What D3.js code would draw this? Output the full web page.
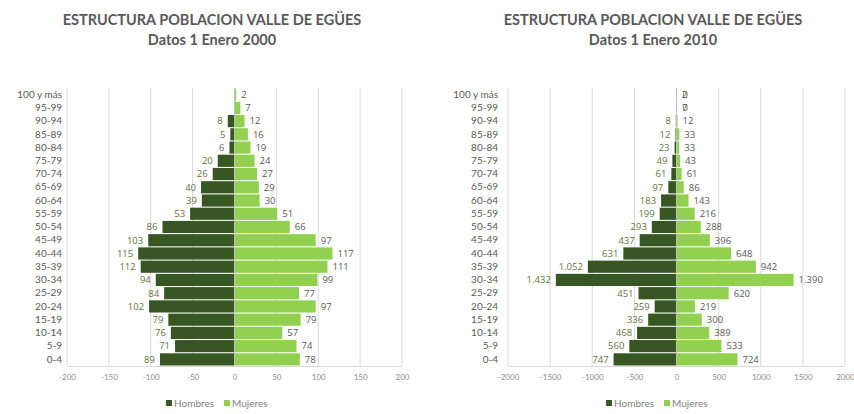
<!DOCTYPE html>
<html><head><meta charset="utf-8">
<script src="https://cdn.jsdelivr.net/npm/d3@7"></script>
<style>
body{margin:0;background:#fff;}
svg{display:block;}
</style></head>
<body><svg id="c" width="854" height="414"></svg>
<script>
const categories = ["100 y más","95-99","90-94","85-89","80-84","75-79","70-74","65-69","60-64","55-59","50-54","45-49","40-44","35-39","30-34","25-29","20-24","15-19","10-14","5-9","0-4"];
const hombres2000 = [null,null,8,5,6,20,26,40,39,53,86,103,115,112,94,84,102,79,76,71,89];
const mujeres2000 = [2,7,12,16,19,24,27,29,30,51,66,97,117,111,99,77,97,79,57,74,78];
const hombres2010 = [0,0,8,12,23,49,61,97,183,199,293,437,631,1052,1432,451,259,336,468,560,747];
const mujeres2010 = [2,7,12,33,33,43,61,86,143,216,288,396,648,942,1390,620,219,300,389,533,724];
const ticks2000 = [-200,-150,-100,-50,0,50,100,150,200];
const ticks2010 = [-2000,-1500,-1000,-500,0,500,1000,1500,2000];
const titleLine1 = "ESTRUCTURA POBLACION VALLE DE EGÜES";
const titles2 = ["Datos 1 Enero 2000","Datos 1 Enero 2010"];
const seriesNames = ["Hombres","Mujeres"];

const colH = "#375623", colM = "#92D050";
const loc = d3.formatLocale({decimal:",", thousands:".", grouping:[3], currency:["","€"], minus:"-"});
const fmtLabel = loc.format(",d");
const fmtTick = loc.format("d");

const svg = d3.select("#c");
const font = "Lato, 'Open Sans', sans-serif";

function panel(cfg){
  const g = svg.append("g");
  // titles
  g.append("text").attr("x",cfg.cx).attr("y",25).attr("text-anchor","middle")
    .attr("font-family",font).attr("font-weight","bold").attr("font-size",14.5)
    .attr("fill","#595959").text(titleLine1);
  g.append("text").attr("x",cfg.cx).attr("y",45).attr("text-anchor","middle")
    .attr("font-family",font).attr("font-weight","bold").attr("font-size",14.5)
    .attr("fill","#595959").text(cfg.title2);

  const x = d3.scaleLinear().domain(cfg.domain).range(cfg.xr);
  const y = d3.scaleBand().domain(categories).range([88,366]).paddingInner(0.08).paddingOuter(0.04);

  // gridlines
  g.append("g").selectAll("line").data(cfg.ticks).join("line")
    .attr("x1",d=>x(d)).attr("x2",d=>x(d)).attr("y1",88).attr("y2",366)
    .attr("stroke","#d9d9d9").attr("stroke-width",1);
  g.append("line").attr("x1",cfg.xr[0]).attr("x2",cfg.xr[1]).attr("y1",366.5).attr("y2",366.5)
    .attr("stroke","#d9d9d9");

  // bars
  const H = categories.map((c,i)=>({c, v:cfg.h[i]}));
  const M = categories.map((c,i)=>({c, v:cfg.m[i]}));
  g.append("g").selectAll("rect").data(H.filter(d=>d.v!=null)).join("rect")
    .attr("x",d=>x(-d.v)).attr("width",d=>x(0)-x(-d.v))
    .attr("y",d=>y(d.c)).attr("height",y.bandwidth()).attr("fill",colH);
  g.append("g").selectAll("rect").data(M).join("rect")
    .attr("x",x(0)).attr("width",d=>x(d.v)-x(0))
    .attr("y",d=>y(d.c)).attr("height",y.bandwidth()).attr("fill",colM);

  // zero axis line
  g.append("line").attr("x1",x(0)).attr("x2",x(0)).attr("y1",88).attr("y2",366)
    .attr("stroke","#bfbfbf");

  // labels
  g.append("g").selectAll("text").data(H.filter(d=>d.v!=null)).join("text")
    .attr("x",d=> d.v===0 ? x(0)+6 : x(-d.v)-5)
    .attr("y",d=>y(d.c)+y.bandwidth()/2).attr("dy","0.35em")
    .attr("text-anchor",d=> d.v===0 ? "start" : "end")
    .attr("font-family","'Open Sans', sans-serif").attr("font-size",9.5)
    .attr("fill","#66733f").text(d=>fmtLabel(d.v));
  g.append("g").selectAll("text").data(M).join("text")
    .attr("x",d=>x(d.v)+5)
    .attr("y",d=>y(d.c)+y.bandwidth()/2).attr("dy","0.35em")
    .attr("text-anchor","start")
    .attr("font-family","'Open Sans', sans-serif").attr("font-size",9.5)
    .attr("fill","#595959").text(d=>fmtLabel(d.v));

  // category axis
  const ya = g.append("g").attr("transform",`translate(${cfg.catX},0)`)
    .call(d3.axisLeft(y).tickSize(0).tickPadding(0));
  ya.select(".domain").remove();
  ya.selectAll("text").attr("font-family",font).attr("font-size",10).attr("fill","#595959");

  // value axis
  const xa = g.append("g").attr("transform","translate(0,366)")
    .call(d3.axisBottom(x).tickValues(cfg.ticks).tickSize(0).tickPadding(8).tickFormat(fmtTick));
  xa.select(".domain").remove();
  xa.selectAll("text").attr("font-family",font).attr("font-size",8).attr("fill","#8c8c8c");

  // legend
  const lg = g.append("g").attr("transform",`translate(${cfg.legX},403)`);
  const items = [{n:seriesNames[0],c:colH,dx:0},{n:seriesNames[1],c:colM,dx:58}];
  items.forEach(it=>{
    lg.append("rect").attr("x",it.dx).attr("y",-3).attr("width",6).attr("height",6).attr("fill",it.c);
    lg.append("text").attr("x",it.dx+8).attr("y",0).attr("dy","0.35em")
      .attr("font-family",font).attr("font-size",10).attr("fill","#7f7f7f").text(it.n);
  });
}

panel({cx:212, title2:titles2[0], domain:[-200,200], xr:[67,402], ticks:ticks2000,
  h:hombres2000, m:mujeres2000, catX:62, legX:166});
panel({cx:653, title2:titles2[1], domain:[-2000,2000], xr:[508,845], ticks:ticks2010,
  h:hombres2010, m:mujeres2010, catX:498, legX:606});
</script></body></html>
